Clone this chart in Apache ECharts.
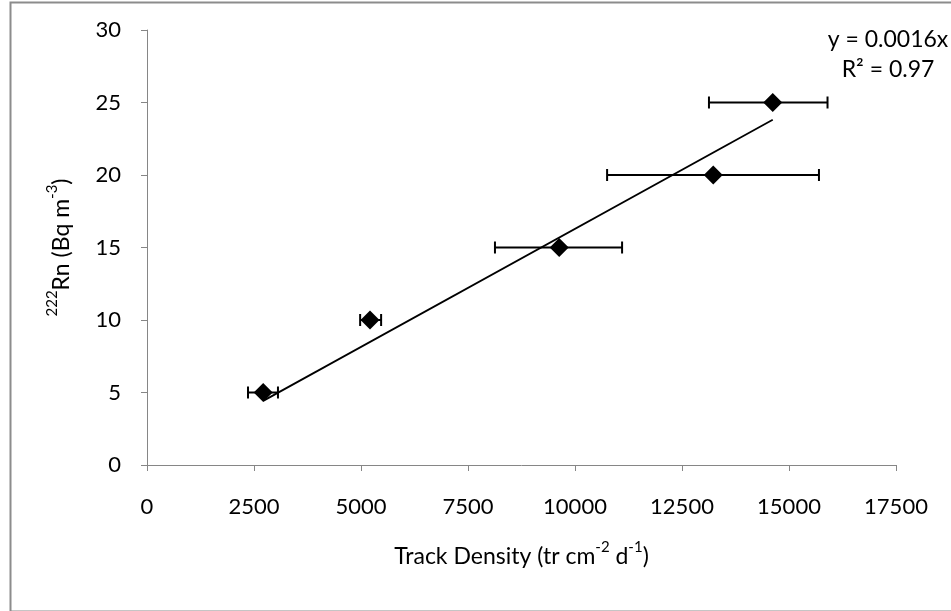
<!DOCTYPE html>
<html><head><meta charset="utf-8">
<script src="https://cdn.jsdelivr.net/npm/echarts@6/dist/echarts.min.js"></script>
<style>html,body{margin:0;padding:0;background:#fff}#c{width:951px;height:611px}</style>
</head><body><div id="c"></div>
<script>
// Data
const trackDensity = [2715, 5210, 9630, 13230, 14620];
const radon = [5, 10, 15, 20, 25];
const errLow = [2360, 4980, 8130, 10750, 13130];
const errHigh = [3060, 5470, 11100, 15700, 15900];
const xTickValues = [0, 2500, 5000, 7500, 10000, 12500, 15000, 17500];
const yTickValues = [0, 5, 10, 15, 20, 25, 30];
const rSquaredText = 'R² = 0.97';

// Least squares through origin (linear trendline, intercept 0)
let sxy = 0, sxx = 0;
trackDensity.forEach((x, i) => { sxy += x * radon[i]; sxx += x * x; });
const slope = sxy / sxx;
const xMin = Math.min(...trackDensity), xMax = Math.max(...trackDensity);
const trend = [[xMin, slope * xMin], [xMax, slope * xMax]];

const points = trackDensity.map((x, i) => [x, radon[i]]);
const errData = trackDensity.map((x, i) => [x, radon[i], errLow[i], errHigh[i]]);

const FONT = 'Lato';
const axisGray = '#868686';
const richTitle = {
  n: {fontSize: 23, color: '#000', fontFamily: FONT, lineHeight: 28, verticalAlign: 'bottom'},
  s: {fontSize: 15, color: '#000', fontFamily: FONT, lineHeight: 28, verticalAlign: 'top'}
};

const chart = echarts.init(document.getElementById('c'), null, {renderer: 'canvas'});
chart.setOption({
  backgroundColor: '#fff',
  animation: false,
  textStyle: {fontFamily: FONT},
  grid: {left: 147, top: 30, right: 55, bottom: 146},
  xAxis: {
    type: 'value', min: xTickValues[0], max: xTickValues[xTickValues.length - 1], interval: 2500,
    axisLine: {show: true, lineStyle: {color: axisGray, width: 1}},
    axisTick: {show: true, length: 6, lineStyle: {color: axisGray}},
    splitLine: {show: false},
    axisLabel: {fontSize: 22, color: '#000', margin: 31, fontFamily: FONT, formatter: v => String(v)},
    name: '{n|Track Density (tr cm}{s|-2}{n| d}{s|-1}{n|)}',
    nameLocation: 'middle', nameGap: 75,
    nameTextStyle: {rich: richTitle}
  },
  yAxis: {
    type: 'value', min: yTickValues[0], max: yTickValues[yTickValues.length - 1], interval: 5,
    axisLine: {show: true, lineStyle: {color: axisGray, width: 1}},
    axisTick: {show: true, length: 6, lineStyle: {color: axisGray}},
    splitLine: {show: false},
    axisLabel: {fontSize: 22, color: '#000', margin: 26, fontFamily: FONT, formatter: v => String(v)},
    name: '{s|222}{n|Rn (Bq m}{s|-3}{n|)}',
    nameLocation: 'middle', nameGap: 74, nameRotate: 90,
    nameTextStyle: {rich: richTitle}
  },
  graphic: [
    {type: 'rect', left: 8, top: 0, shape: {width: 960, height: 609}, style: {fill: 'none', stroke: '#8c8c8c', lineWidth: 2}, silent: true, z: -1},
    {type: 'text', x: 888, y: 40, style: {text: 'y = ' + slope.toFixed(4) + 'x', fontSize: 23, fontFamily: FONT, fill: '#000', align: 'center', verticalAlign: 'middle'}},
    {type: 'text', x: 888, y: 70, style: {text: rSquaredText, fontSize: 23, fontFamily: FONT, fill: '#000', align: 'center', verticalAlign: 'middle'}}
  ],
  series: [
    {
      type: 'line', data: trend, showSymbol: false, symbol: 'none',
      lineStyle: {color: '#000', width: 1.8}, z: 2
    },
    {
      type: 'custom', data: errData, z: 3,
      renderItem: function (params, api) {
        const y = api.value(1);
        const p1 = api.coord([api.value(2), y]);
        const p2 = api.coord([api.value(3), y]);
        const h = 6;
        const st = {stroke: '#000', lineWidth: 2};
        return {type: 'group', children: [
          {type: 'line', shape: {x1: p1[0], y1: p1[1], x2: p2[0], y2: p2[1]}, style: st},
          {type: 'line', shape: {x1: p1[0], y1: p1[1] - h, x2: p1[0], y2: p1[1] + h}, style: st},
          {type: 'line', shape: {x1: p2[0], y1: p2[1] - h, x2: p2[0], y2: p2[1] + h}, style: st}
        ]};
      }
    },
    {
      type: 'scatter', data: points, symbol: 'diamond', symbolSize: 19,
      itemStyle: {color: '#000', opacity: 1}, z: 4
    }
  ]
});
</script>
</body></html>
